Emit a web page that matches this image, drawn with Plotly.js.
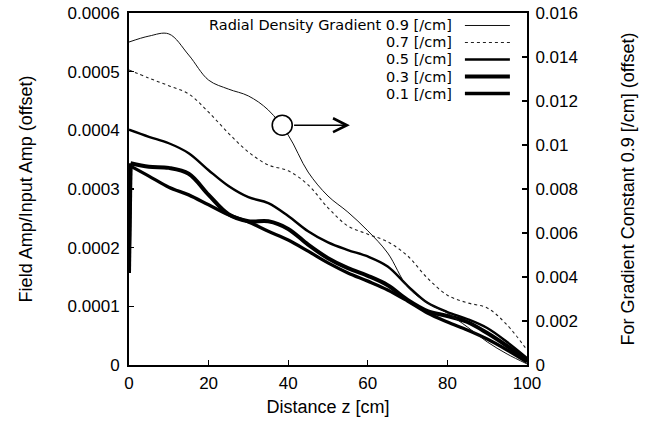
<!DOCTYPE html>
<html>
<head>
<meta charset="utf-8">
<script src="https://cdn.plot.ly/plotly-3.0.1.min.js"></script>
<style>
html,body{margin:0;padding:0;background:#fff;}
#chart{width:646px;height:423px;}
</style>
</head>
<body>
<div id="chart"></div>
<script>
// Distance z [cm]
const zGrid = [0, 5, 10, 15, 20, 25, 30, 35, 40, 45, 50, 55, 60, 65, 70, 75, 80, 85, 90, 95, 100];
const zJump = [0, 0.4, 5, 10, 15, 20, 25, 30, 35, 40, 45, 50, 55, 60, 65, 70, 75, 80, 85, 90, 95, 100];

// Gradient 0.9 [/cm] (read on right axis)
const grad09 = [0.01468, 0.01495, 0.01505, 0.01409, 0.01295, 0.01254, 0.01223, 0.01159, 0.01045, 0.00877, 0.00768, 0.00695, 0.00610, 0.00509, 0.00355, 0.00282, 0.00236, 0.00173, 0.00105, 0.00050, 0.00005];
// Gradient 0.7 [/cm]
const grad07 = [0.000503, 0.000489, 0.000476, 0.000462, 0.000431, 0.000395, 0.000363, 0.000341, 0.000331, 0.000307, 0.000268, 0.000237, 0.000223, 0.000210, 0.000186, 0.000148, 0.000119, 0.000106, 0.0000972, 0.0000682, 0.0000256];
// Gradient 0.5 [/cm]
const grad05 = [0.000401, 0.000389, 0.000378, 0.000361, 0.000332, 0.000305, 0.000286, 0.000276, 0.000254, 0.000228, 0.000209, 0.000196, 0.000185, 0.000168, 0.000135, 0.000106, 0.0000903, 0.0000784, 0.0000631, 0.0000392, 0.0000119];
// Gradient 0.3 [/cm]
const grad03 = [0.000157, 0.000344, 0.000338, 0.000336, 0.000326, 0.000290, 0.000257, 0.000245, 0.000245, 0.000232, 0.000205, 0.000182, 0.000165, 0.000152, 0.000136, 0.000111, 0.0000920, 0.0000835, 0.0000733, 0.0000545, 0.0000324, 0.0000085];
// Gradient 0.1 [/cm]
const grad01 = [0.000157, 0.000339, 0.000322, 0.000303, 0.000290, 0.000273, 0.000256, 0.000244, 0.000228, 0.000213, 0.000194, 0.000174, 0.000157, 0.000143, 0.000128, 0.000109, 0.0000886, 0.0000733, 0.0000597, 0.0000443, 0.0000256, 0.0000051];

// marked point on the 0.9 curve (arrow points to right axis)
const markZ = [38.5];
const markVal = [0.0109];
const arrowTipZ = 55.5;

const legendLabels = ["Radial Density Gradient 0.9 [/cm]", "0.7 [/cm]", "0.5 [/cm]", "0.3 [/cm]", "0.1 [/cm]"];

const xTickVals = [0, 20, 40, 60, 80, 100];
const xTickText = ["0", "20", "40", "60", "80", "100"];
const yTickVals = [0, 0.0001, 0.0002, 0.0003, 0.0004, 0.0005, 0.0006];
const yTickText = ["0", "0.0001", "0.0002", "0.0003", "0.0004", "0.0005", "0.0006"];
const y2TickVals = [0, 0.002, 0.004, 0.006, 0.008, 0.01, 0.012, 0.014, 0.016];
const y2TickText = ["0", "0.002", "0.004", "0.006", "0.008", "0.01", "0.012", "0.014", "0.016"];

const FONT = "Liberation Sans, Arial, Helvetica, sans-serif";
const LEGFONT = "DejaVu Sans, Liberation Sans, Arial, sans-serif";
const styles = [
  {width: 1, dash: "solid", color: "#111"},
  {width: 1.1, dash: "dot", color: "#222"},
  {width: 2.4, dash: "solid", color: "#000"},
  {width: 4, dash: "solid", color: "#000"},
  {width: 3.3, dash: "solid", color: "#000"}
];

function lineTrace(x, y, axis, i, shape) {
  return {
    type: "scatter", mode: "lines", x: x, y: y, yaxis: axis, showlegend: false,
    name: legendLabels[i],
    line: {color: styles[i].color, width: styles[i].width, dash: styles[i].dash, shape: shape, smoothing: 1.0}
  };
}

const traces = [
  lineTrace(zGrid, grad09, "y2", 0, "spline"),
  lineTrace(zGrid, grad07, "y", 1, "spline"),
  lineTrace(zGrid, grad05, "y", 2, "spline"),
  // initial jump at z = 0 drawn straight, rest smooth
  lineTrace(zJump.slice(0, 2), grad03.slice(0, 2), "y", 3, "linear"),
  lineTrace(zJump.slice(1), grad03.slice(1), "y", 3, "spline"),
  lineTrace(zJump.slice(0, 2), grad01.slice(0, 2), "y", 4, "linear"),
  lineTrace(zJump.slice(1), grad01.slice(1), "y", 4, "spline")
];
traces.forEach(t => { t.cliponaxis = false; });

traces.push({
  type: "scatter", mode: "markers", x: markZ, y: markVal, yaxis: "y2", showlegend: false,
  marker: {symbol: "circle", size: 20, color: "#fff", line: {color: "#000", width: 1.6}}
});

// legend drawn gnuplot-style: right-aligned text with line sample to the right
const legendY = [0.9645, 0.9162, 0.8679, 0.8196, 0.7713];
const annotations = legendLabels.map((txt, i) => ({
  xref: "paper", yref: "paper", x: 0.814, y: legendY[i],
  xanchor: "right", yanchor: "middle", text: txt, showarrow: false, borderpad: 0,
  font: {family: LEGFONT, size: 14.5, color: "#000"}
}));
annotations.push({
  xref: "x", yref: "y2", x: arrowTipZ, y: markVal[0],
  axref: "x", ayref: "y2", ax: markZ[0] + 2.6, ay: markVal[0],
  text: "", showarrow: true, arrowhead: 5, arrowsize: 1.7, arrowwidth: 1.6, arrowcolor: "#000"
});
const shapes = legendLabels.map((txt, i) => ({
  type: "line", xref: "paper", yref: "paper",
  x0: 0.844, x1: 0.957, y0: legendY[i], y1: legendY[i],
  line: {color: styles[i].color, width: styles[i].width, dash: styles[i].dash}
}));

const axisFont = {family: FONT, size: 17, color: "#000"};
const titleFont = {family: FONT, size: 18, color: "#000"};

const layout = {
  width: 646, height: 423,
  margin: {l: 129, r: 119, t: 13, b: 58},
  paper_bgcolor: "#fff", plot_bgcolor: "#fff",
  font: {family: FONT, color: "#000"},
  xaxis: {
    range: [0, 100], tickvals: xTickVals, ticktext: xTickText,
    ticks: "inside", ticklen: 5, tickwidth: 1.2, tickcolor: "#000",
    showline: true, linecolor: "#000", linewidth: 2, mirror: true,
    showgrid: false, zeroline: false, tickfont: axisFont,
    ticklabelstandoff: 2,
    title: {text: "Distance z [cm]", font: titleFont, standoff: 8}
  },
  yaxis: {
    range: [0, 0.0006], tickvals: yTickVals, ticktext: yTickText,
    ticks: "inside", ticklen: 5, tickwidth: 1.2, tickcolor: "#000",
    showline: true, linecolor: "#000", linewidth: 2,
    showgrid: false, zeroline: false, tickfont: axisFont,
    ticklabelstandoff: 4,
    title: {text: "Field Amp/Input Amp (offset)", font: titleFont, standoff: 30}
  },
  yaxis2: {
    overlaying: "y", side: "right",
    range: [0, 0.016], tickvals: y2TickVals, ticktext: y2TickText,
    ticks: "inside", ticklen: 5, tickwidth: 1.2, tickcolor: "#000",
    showline: true, linecolor: "#000", linewidth: 2,
    showgrid: false, zeroline: false, tickfont: axisFont,
    ticklabelstandoff: 3,
    title: {text: "For Gradient Constant 0.9 [/cm] (offset)", font: titleFont, standoff: 44}
  },
  annotations: annotations,
  shapes: shapes,
  showlegend: false
};

Plotly.newPlot("chart", traces, layout, {staticPlot: true, displayModeBar: false});
</script>
</body>
</html>
